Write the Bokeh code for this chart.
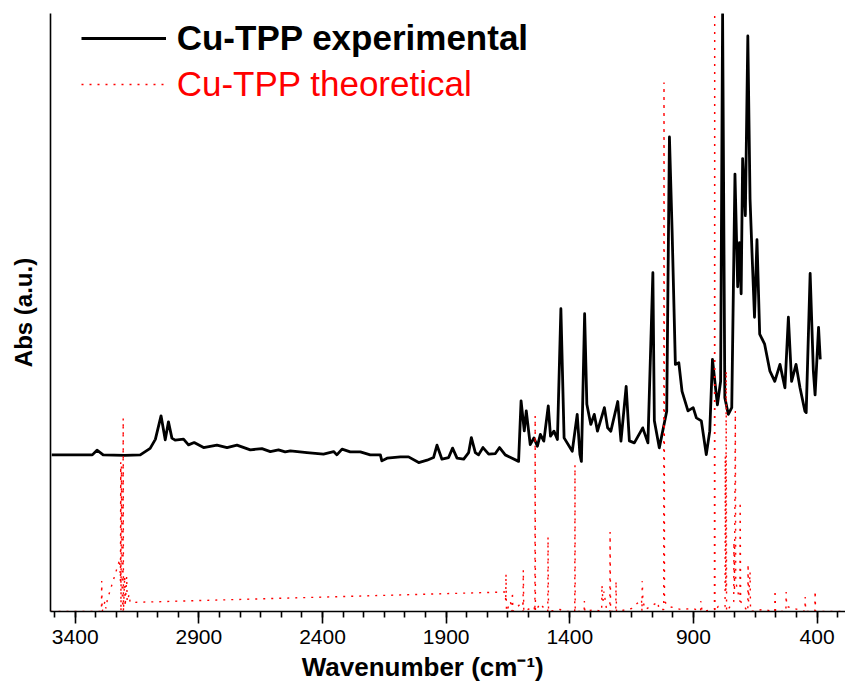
from bokeh.plotting import figure
from bokeh.models import Range1d, FixedTicker, Legend, LegendItem
from bokeh.embed import file_html
from bokeh.resources import INLINE

# ---------------- data ----------------
exp_wn = [3495, 3331, 3312, 3287, 3200, 3137, 3097, 3076, 3053, 3036, 3023, 3009, 2996, 2962,
          2942, 2919, 2881, 2827, 2786, 2746, 2692, 2645, 2611, 2578, 2551, 2530, 2463, 2396,
          2355, 2342, 2321, 2288, 2247, 2207, 2166, 2160, 2139, 2085, 2052, 2011, 1977, 1951,
          1937, 1917, 1890, 1874, 1856, 1829, 1809, 1798, 1782, 1769, 1751, 1728, 1701, 1684,
          1661, 1607, 1597, 1584, 1576, 1560, 1545, 1531, 1519, 1505, 1487, 1478, 1464, 1450,
          1436, 1423, 1390, 1370, 1359, 1353, 1340, 1331, 1315, 1301, 1288, 1260, 1247, 1234,
          1206, 1193, 1172, 1159, 1139, 1105, 1084, 1064, 1058, 1038, 1008, 997, 986, 973, 959,
          946, 922, 901, 888, 868, 848, 834, 823, 803, 790, 782, 773, 759, 745, 732, 721, 714,
          707, 701, 690, 680, 671, 663, 653, 643, 632, 612, 591, 571, 550, 530, 516, 503, 485,
          469, 449, 444, 428, 415, 408, 394, 387]
exp_abs = [1.565, 1.565, 1.612, 1.565, 1.560, 1.565, 1.630, 1.720, 1.955, 1.715, 1.895, 1.732,
           1.712, 1.722, 1.665, 1.688, 1.638, 1.662, 1.638, 1.662, 1.615, 1.628, 1.598, 1.615,
           1.595, 1.605, 1.588, 1.572, 1.598, 1.565, 1.622, 1.595, 1.595, 1.565, 1.565, 1.505,
           1.532, 1.545, 1.545, 1.488, 1.512, 1.538, 1.662, 1.522, 1.538, 1.632, 1.532, 1.522,
           1.588, 1.738, 1.588, 1.565, 1.638, 1.572, 1.578, 1.638, 1.565, 1.500, 2.105, 1.805,
           2.005, 1.668, 1.735, 1.651, 1.769, 1.702, 2.055, 1.752, 1.802, 1.718, 3.025, 1.735,
           1.601, 1.970, 1.568, 1.500, 2.975, 2.070, 1.869, 1.970, 1.802, 2.037, 1.835, 1.802,
           2.098, 1.702, 2.250, 1.705, 1.685, 1.835, 1.685, 3.385, 1.905, 1.635, 2.000, 4.741,
           3.785, 2.469, 2.485, 2.199, 2.005, 2.037, 1.935, 1.905, 1.568, 1.802, 2.519, 2.065,
           2.300, 5.970, 2.137, 1.970, 2.037, 4.371, 3.245, 3.685, 3.175, 4.525, 3.955, 5.751,
           4.119, 3.580, 2.940, 3.715, 2.772, 2.671, 2.405, 2.300, 2.469, 2.235, 2.940, 2.300,
           2.469, 2.235, 2.000, 1.987, 3.378, 2.405, 2.165, 2.839, 2.519]

theo_wn = [3500, 3300, 3294, 3293, 3291, 3280, 3276, 3270, 3220, 3217, 3216, 3215, 3213, 3210,
           3207, 3206, 3205, 3200, 3198, 3192, 3190, 3182, 3178, 1661, 1659, 1658, 1656, 1640,
           1633, 1632, 1630, 1590, 1589, 1588, 1586, 1545, 1541, 1540, 1539, 1520, 1500, 1489,
           1488, 1486, 1440, 1420, 1380, 1379, 1378, 1342, 1341, 1339, 1300, 1271, 1270, 1266,
           1262, 1250, 1238, 1237, 1235, 1214, 1213, 1211, 1150, 1110, 1108, 1107, 1104, 1095,
           1043, 1040, 1020, 1019, 1017, 1000, 950, 900, 871, 870, 865, 815, 814, 813, 800, 772,
           771, 769, 767.5, 766, 737, 736, 734, 730.5, 729, 712, 711, 709, 680, 679, 677, 671,
           669, 620, 571, 570, 568, 526, 525, 523, 449, 448, 446, 409, 408, 406, 285]
theo_int = [0.0, 0.0, 0.0, 0.305, 0.0, 0.10, 0.03, 0.12, 0.52, 0.30, 1.49, 0.0, 1.45, 0.20,
            0.0, 1.93, 0.0, 0.35, 0.05, 0.35, 0.10, 0.17, 0.09, 0.195, 0.10, 0.375, 0.0, 0.10,
            0.0, 0.195, 0.0, 0.10, 0.0, 0.415, 0.0, 0.05, 0.0, 1.955, 0.0, 0.08, 0.02, 0.0,
            0.745, 0.0, 0.02, 0.0, 0.0, 1.465, 0.0, 0.0, 0.105, 0.0, 0.02, 0.0, 0.265, 0.10,
            0.20, 0.0, 0.0, 0.795, 0.0, 0.0, 0.305, 0.0, 0.03, 0.12, 0.0, 0.305, 0.10, 0.02,
            0.095, 0.02, 0.02, 5.285, 0.10, 0.05, 0.02, 0.03, 0.0, 0.105, 0.0, 0.02, 6.5, 0.0,
            0.05, 0.05, 1.555, 0.20, 2.405, 0.0, 0.10, 0.695, 0.20, 2.005, 0.30, 0.10, 1.095,
            0.10, 0.0, 0.475, 0.10, 0.395, 0.0, 0.02, 0.0, 0.215, 0.0, 0.0, 0.195, 0.05, 0.0,
            0.145, 0.0, 0.0, 0.205, 0.0, 0.0]

x_ticks = [400, 900, 1400, 1900, 2400, 2900, 3400]
x_range = (3500, 285)
y_range = (0, 5.975)

FONT = "Liberation Sans"

p = figure(width=845, height=684, output_backend="svg", toolbar_location=None,
           x_range=Range1d(*x_range), y_range=Range1d(*y_range),
           min_border_left=50, min_border_right=0, min_border_top=13, min_border_bottom=73,
           background_fill_color="white", border_fill_color="white")
p.outline_line_color = None
p.xgrid.visible = False
p.ygrid.visible = False

r_exp = p.line(exp_wn, exp_abs, line_color="black", line_width=2.8, line_join="round")
r_theo = p.line(theo_wn, theo_int, line_color="red", line_width=1.4, line_dash="2 6")

# x axis
step = (x_ticks[1] - x_ticks[0]) / 6
minors = [x_ticks[0] - step + i * step for i in range(0, 6 * (len(x_ticks) - 1) + 3)]
p.xaxis.ticker = FixedTicker(ticks=x_ticks, minor_ticks=minors)
p.xaxis.axis_line_width = 1.6
p.xaxis.major_tick_line_width = 1.6
p.xaxis.minor_tick_line_width = 1.6
p.xaxis.major_tick_out = 12
p.xaxis.major_tick_in = 0
p.xaxis.minor_tick_out = 6
p.xaxis.minor_tick_in = 0
p.xaxis.major_label_standoff = 6
p.xaxis.major_label_text_font = FONT
p.xaxis.major_label_text_font_size = "21px"
p.xaxis.major_label_text_color = "black"
# trailing no-break spaces shift the centred title left, as in the reference
p.xaxis.axis_label = "Wavenumber (cm\u207b\u00b9)" + "\u00a0" * 7
p.xaxis.axis_label_text_font = FONT
p.xaxis.axis_label_text_font_size = "26px"
p.xaxis.axis_label_text_font_style = "bold"
p.xaxis.axis_label_text_color = "black"
p.xaxis.axis_label_standoff = 5

# y axis
p.yaxis.ticker = FixedTicker(ticks=[])
p.yaxis.axis_line_width = 1.6
p.yaxis.major_tick_out = 0
p.yaxis.minor_tick_out = 0
p.yaxis.axis_label = "Abs (a.u.)"
p.yaxis.axis_label_text_font = FONT
p.yaxis.axis_label_text_font_size = "24px"
p.yaxis.axis_label_text_font_style = "bold"
p.yaxis.axis_label_text_color = "black"
p.yaxis.axis_label_standoff = 14

# legends
def make_legend(label, rend, loc, color, style):
    return Legend(items=[LegendItem(label=label, renderers=[rend])], location=loc,
                  label_text_font=FONT, label_text_font_size="35px",
                  label_text_font_style=style, label_text_color=color,
                  glyph_width=85, glyph_height=20, label_standoff=11, padding=0,
                  spacing=0, margin=0, border_line_color=None, background_fill_alpha=0)

p.add_layout(make_legend("Cu-TPP experimental", r_exp, (30.7, 553.5), "black", "bold"))
p.add_layout(make_legend("Cu-TPP theoretical", r_theo, (30.7, 507.5), "red", "normal"))

open("out.html", "w").write(file_html(p, INLINE))
